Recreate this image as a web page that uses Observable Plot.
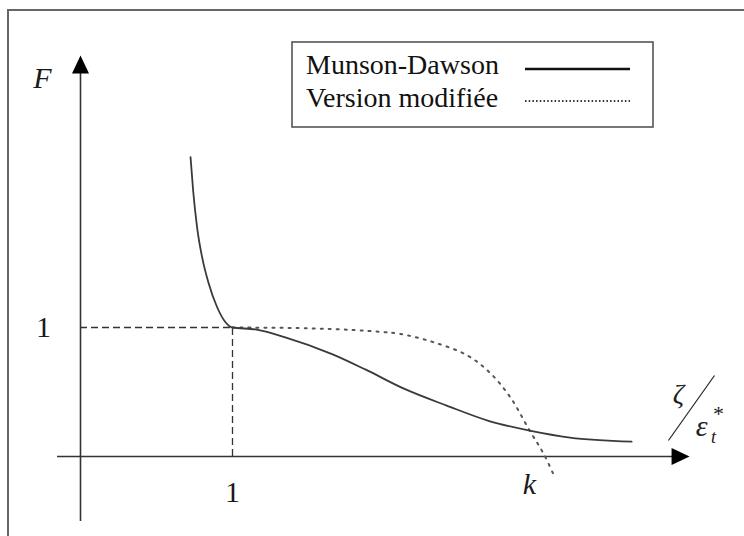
<!DOCTYPE html>
<html>
<head>
<meta charset="utf-8">
<script src="https://cdn.jsdelivr.net/npm/d3@7"></script>
<script src="https://cdn.jsdelivr.net/npm/@observablehq/plot@0.6"></script>
<style>
  html, body { margin: 0; padding: 0; background: #fff; }
  #wrap { position: relative; width: 744px; height: 536px; overflow: hidden; background: #fff; }
  #border { position: absolute; left: 7px; top: 9px; right: -10px; bottom: -10px;
            border-top: 2px solid #666; border-left: 2px solid #666; pointer-events: none; }
  #legend { position: absolute; left: 291px; top: 41px; }
</style>
</head>
<body>
<div id="wrap">
  <div id="border"></div>
</div>
<script>
// ---- data ----
const munsonX = [0.724, 0.741, 0.767, 0.800, 0.844, 0.899, 0.954, 1.0, 1.15, 1.347, 1.659, 1.877, 2.128, 2.409, 2.689, 2.955, 3.220, 3.626];
const munsonY = [2.320, 2.062, 1.777, 1.545, 1.339, 1.157, 1.041, 1.0, 0.985, 0.924, 0.792, 0.673, 0.526, 0.395, 0.275, 0.201, 0.147, 0.116];
const modX = [1.0, 1.5, 1.8, 1.98, 2.105, 2.322, 2.546, 2.697, 2.829, 2.955, 3.046, 3.118];
const modY = [1.0, 0.994, 0.980, 0.966, 0.950, 0.886, 0.783, 0.645, 0.457, 0.201, 0.023, -0.155];
const seriesNames = ["Munson-Dawson", "Version modifiée"];
const unitX = 1, unitY = 1;            // the point (1, 1) marked by dashed guides
const xAxisExtent = [-0.151, 4.007];
const yAxisExtent = [-0.504, 3.109];
const xTickLabels = ["1"];
const yTickLabels = ["1"];
const kValue = 2.954;
const kLabel = "k";
const yTitle = "F";

// ---- build tables ----
const munson = munsonX.map((x, i) => ({x, y: munsonY[i]}));
const modified = modX.map((x, i) => ({x, y: modY[i]}));

// filled arrowhead symbol with its tip at the anchor point
const arrowHead = {
  draw(ctx) {
    const L = 18, w = 8.5;
    ctx.moveTo(0, 0);
    ctx.lineTo(w, L);
    ctx.lineTo(-w, L);
    ctx.closePath();
  }
};

const serif = "Liberation Serif, DejaVu Serif, serif";

const chart = Plot.plot({
  width: 744,
  height: 536,
  margin: 0,
  x: {type: "linear", domain: [0, 1], range: [80, 232], axis: null},
  y: {type: "linear", domain: [0, 1], range: [456, 327], axis: null},
  style: {fontFamily: serif, background: "transparent", color: "#1a1a1a"},
  marks: [
    // axes
    Plot.ruleY([0], {x1: xAxisExtent[0], x2: xAxisExtent[1] - 0.08, stroke: "#333", strokeWidth: 1.6}),
    Plot.ruleX([0], {y1: yAxisExtent[0], y2: yAxisExtent[1] - 0.1, stroke: "#333", strokeWidth: 1.6}),
    Plot.dot([{x: xAxisExtent[1], y: 0}], {x: "x", y: "y", symbol: arrowHead, r: 5, fill: "#000", stroke: null, rotate: 90}),
    Plot.dot([{x: 0, y: yAxisExtent[1]}], {x: "x", y: "y", symbol: arrowHead, r: 5, fill: "#000", stroke: null}),
    // dashed guides to (1,1)
    Plot.ruleY([unitY], {x1: 0, x2: unitX, stroke: "#333", strokeWidth: 1.3, strokeDasharray: "7,4"}),
    Plot.ruleX([unitX], {y1: 0, y2: unitY, stroke: "#333", strokeWidth: 1.3, strokeDasharray: "7,4"}),
    // curves
    Plot.line(modified, {x: "x", y: "y", curve: "catmull-rom", stroke: "#555", strokeWidth: 2, strokeDasharray: "2,6"}),
    Plot.line(munson, {x: "x", y: "y", curve: "monotone-x", stroke: "#3a3a3a", strokeWidth: 1.8}),
    // tick labels
    Plot.text(yTickLabels, {x: () => -0.243, y: (d) => +d, text: (d) => d, fontSize: 30, fill: "#1a1a1a"}),
    Plot.text(xTickLabels, {x: (d) => +d, y: () => -0.28, text: (d) => d, fontSize: 30, fill: "#1a1a1a"}),
    Plot.text([kLabel], {x: () => kValue, y: () => -0.217, text: (d) => d, fontSize: 30, fontStyle: "italic", fill: "#1a1a1a"}),
    Plot.text([yTitle], {x: () => -0.25, y: () => 2.93, text: (d) => d, fontSize: 30, fontStyle: "italic", fill: "#1a1a1a"}),
    // x-axis title: ζ / ε_t*
    Plot.link([{x1: 3.868, y1: 0.124, x2: 4.171, y2: 0.628}], {x1: "x1", y1: "y1", x2: "x2", y2: "y2", stroke: "#222", strokeWidth: 1.2}),
    Plot.text(["ζ"], {x: () => 3.934, y: () => 0.481, text: (d) => d, fontSize: 28, fontStyle: "italic", fill: "#222"}),
    Plot.text(["ε"], {x: () => 4.086, y: () => 0.233, text: (d) => d, fontSize: 30, fontStyle: "italic", fill: "#222"}),
    Plot.text(["t"], {x: () => 4.164, y: () => 0.150, text: (d) => d, fontSize: 18, fontStyle: "italic", fill: "#222"}),
    Plot.text(["*"], {x: () => 4.197, y: () => 0.330, text: (d) => d, fontSize: 22, fill: "#222"})
  ]
});

const wrap = document.getElementById("wrap");
chart.style.position = "absolute";
chart.style.left = "0px";
chart.style.top = "0px";
wrap.appendChild(chart);

// legend box (inside the chart area, drawn as an overlay)
const ns = "http://www.w3.org/2000/svg";
const leg = document.createElementNS(ns, "svg");
leg.setAttribute("id", "legend");
leg.setAttribute("width", 364);
leg.setAttribute("height", 88);
const tf = `font-family="Liberation Serif, DejaVu Serif, serif" font-size="28" fill="#111"`;
leg.innerHTML = `
  <rect x="1" y="1" width="361" height="85" fill="#fff" stroke="#555" stroke-width="1.6"/>
  <text x="15" y="33" ${tf}>${seriesNames[0]}</text>
  <text x="15" y="66" ${tf}>${seriesNames[1]}</text>
  <line x1="234" x2="339" y1="28" y2="28" stroke="#111" stroke-width="2.6"/>
  <line x1="234" x2="339" y1="60" y2="60" stroke="#333" stroke-width="1.8" stroke-dasharray="1.5,2.2"/>
`;
wrap.appendChild(leg);
</script>
</body>
</html>
